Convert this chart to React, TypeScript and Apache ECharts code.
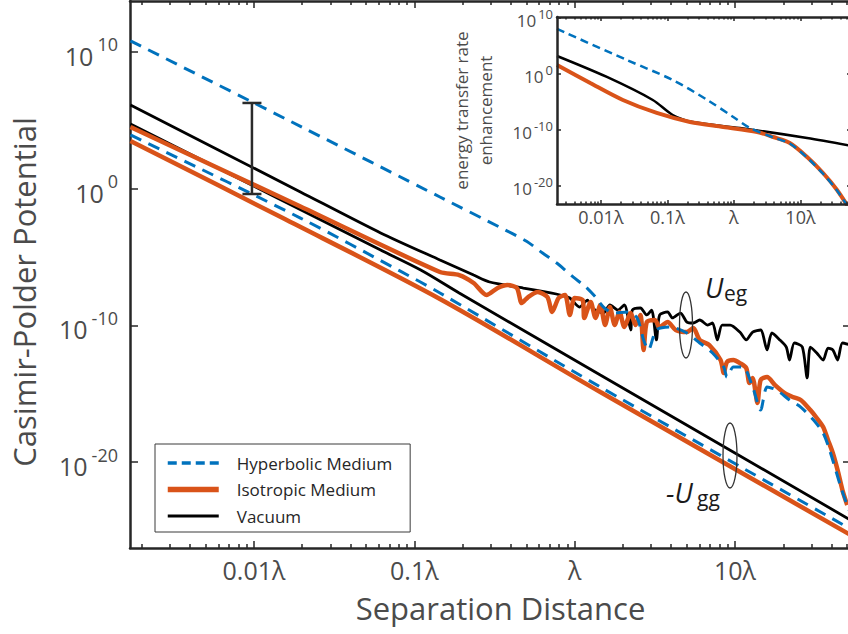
import React, { useEffect, useRef } from 'react';
import * as echarts from 'echarts';

const FONT = "'Open Sans', 'DejaVu Sans', sans-serif";
const TEXT = '#4b4b4b';
const AXIS = '#262626';
const BLUE = '#0072BD';
const ORANGE = '#D95319';
const BLACK = '#000000';

// axis ranges in log10 units (separation in units of λ, potential in arbitrary units)
const X_MIN = -2.773, X_MAX = 1.7235, Y_MIN = -26.29, Y_MAX = 13.73;
const XI_MIN = -2.66, XI_MAX = 1.76, YI_MIN = -23.2, YI_MAX = 10.2;

const xTickExps = [-2, -1, 0, 1];
const xTickLabels = ['0.01λ', '0.1λ', 'λ', '10λ'];
const yTickExps = [-20, -10, 0, 10];
const legendNames = ['Hyperbolic Medium', 'Isotropic Medium', 'Vacuum'];

// main panel, [log10(r/λ), log10(U)]
const hyperUeg = [[-2.77,10.81],[-1.71,4.56],[-0.84,-0.61],[-0.47,-2.80],[-0.30,-3.85],[-0.20,-4.71],[-0.10,-5.55],[-0.01,-6.46],[0.07,-7.20],[0.13,-7.93],[0.18,-8.66],[0.24,-9.10],[0.33,-9.02],[0.39,-9.46],[0.43,-11.07],[0.46,-11.80],[0.51,-10.34],[0.60,-10.12],[0.70,-10.56],[0.78,-11.29],[0.86,-12.02],[0.93,-13.05],[0.95,-13.78],[0.99,-13.05],[1.05,-13.05],[1.11,-14.51],[1.16,-16.20],[1.20,-14.51],[1.26,-14.73],[1.34,-15.46],[1.41,-15.98],[1.49,-16.93],[1.55,-17.88],[1.59,-19.12],[1.66,-21.83],[1.71,-23.51]];
const isoUeg = [[-2.77,4.51],[-1.71,-1.31],[-0.84,-6.10],[-0.72,-6.32],[-0.63,-6.90],[-0.55,-7.78],[-0.48,-7.27],[-0.42,-7.05],[-0.36,-7.27],[-0.33,-8.37],[-0.29,-7.93],[-0.23,-7.56],[-0.17,-7.93],[-0.14,-9.02],[-0.10,-8.00],[-0.06,-7.78],[-0.03,-9.24],[0.00,-8.00],[0.05,-8.15],[0.06,-9.46],[0.10,-8.29],[0.13,-9.46],[0.16,-8.51],[0.19,-9.98],[0.22,-8.66],[0.25,-9.98],[0.28,-9.02],[0.31,-10.12],[0.35,-9.10],[0.38,-9.98],[0.41,-9.24],[0.43,-11.80],[0.45,-9.76],[0.50,-9.61],[0.53,-10.12],[0.58,-9.76],[0.63,-10.34],[0.70,-10.49],[0.74,-10.20],[0.78,-11.07],[0.84,-11.44],[0.91,-12.54],[0.93,-13.49],[0.95,-12.68],[0.99,-12.54],[1.03,-12.76],[1.07,-13.12],[1.09,-14.22],[1.11,-13.85],[1.14,-15.68],[1.16,-14.00],[1.20,-13.78],[1.25,-14.37],[1.31,-14.95],[1.36,-15.24],[1.41,-15.46],[1.47,-16.20],[1.51,-16.78],[1.55,-17.44],[1.58,-18.39],[1.61,-19.34],[1.64,-20.59],[1.67,-22.05],[1.70,-23.15]];
const vacUeg = [[-2.77,6.12],[-1.71,-0.24],[-1.21,-3.24],[-0.84,-5.22],[-0.63,-6.32],[-0.53,-6.83],[-0.32,-7.27],[-0.15,-7.63],[-0.09,-7.78],[-0.03,-8.00],[0.03,-8.66],[0.08,-8.15],[0.11,-8.73],[0.18,-9.10],[0.22,-8.51],[0.27,-8.88],[0.31,-8.51],[0.35,-10.34],[0.36,-8.88],[0.41,-8.73],[0.45,-9.24],[0.48,-8.88],[0.51,-11.07],[0.53,-9.24],[0.58,-9.02],[0.61,-9.46],[0.66,-9.10],[0.70,-9.76],[0.74,-9.83],[0.78,-9.61],[0.83,-9.98],[0.86,-9.83],[0.89,-11.07],[0.92,-9.98],[0.97,-9.98],[1.03,-10.49],[1.07,-11.07],[1.11,-10.49],[1.16,-10.34],[1.20,-11.80],[1.23,-10.56],[1.28,-11.07],[1.32,-11.59],[1.34,-12.54],[1.37,-11.29],[1.42,-11.59],[1.45,-13.85],[1.47,-11.59],[1.51,-12.02],[1.55,-12.54],[1.58,-11.66],[1.61,-11.80],[1.64,-12.54],[1.67,-11.29],[1.72,-11.44]];
const vacUgg = [[-2.77,4.73],[-1.21,-4.49],[-0.96,-5.95],[-0.72,-7.63],[0.16,-13.63],[1.72,-24.24]];
const hyperUgg = [[-2.77,3.93],[-1.71,-2.15],[-1.09,-6.02],[-0.84,-7.63],[0.16,-14.51],[1.72,-24.89]];
const isoUgg = [[-2.77,3.49],[-1.82,-2.15],[-0.84,-8.07],[0.16,-14.88],[1.72,-25.33]];
// error bar at 0.01λ: [x, low, high]
const errorBar = [[-2.0125, -0.39, 6.27]];

// inset: energy transfer rate enhancement
const insetHyper = [[-2.66,8.06],[-1.61,2.52],[-0.92,-1.05],[-0.40,-4.62],[-0.01,-7.66],[0.24,-9.62],[0.59,-11.30],[0.84,-12.40],[1.10,-14.90],[1.34,-17.80],[1.55,-20.80],[1.76,-24.50]];
const insetVac = [[-2.66,3.24],[-1.91,-0.51],[-1.22,-4.62],[-0.92,-7.30],[-0.62,-8.55],[0.09,-9.62],[1.10,-11.41],[1.76,-12.80]];
const insetIso = [[-2.66,1.63],[-2.16,-1.59],[-1.67,-4.62],[-1.16,-6.94],[-0.66,-8.55],[-0.16,-9.44],[0.35,-10.34],[0.59,-11.23],[0.84,-12.30],[1.10,-14.80],[1.34,-17.66],[1.55,-20.69],[1.76,-24.50]];

function minorTicks(lo: number, hi: number) {
  const out: number[] = [];
  for (let d = -4; d <= 2; d++) {
    for (let k = 2; k <= 9; k++) {
      const v = d + Math.log10(k);
      if (v > lo && v < hi) out.push(v);
    }
  }
  return out;
}

const fmtX = (v: number) => {
  const i = xTickExps.indexOf(Math.round(v));
  return i >= 0 ? xTickLabels[i] : '';
};
const fmtY = (v: number) => `{b|10}{s|${Math.round(v)}}`;

function xAxes(grid: number, min: number, max: number, labelSize: number, majorLen: number, minorLen: number, lw: number, z: number, extra: any) {
  const base = { gridIndex: grid, type: 'value', min, max, splitLine: { show: false }, z };
  const tickStyle = { color: AXIS, width: 1.5 };
  return [
    {
      ...base, position: 'bottom',
      axisLine: { show: true, onZero: false, lineStyle: { color: AXIS, width: lw } },
      axisTick: { show: true, inside: true, length: majorLen, customValues: xTickExps, lineStyle: tickStyle },
      axisLabel: { show: true, customValues: xTickExps, formatter: fmtX, color: TEXT, fontSize: labelSize, fontFamily: FONT, margin: extra.labelMargin },
      ...extra.name,
    },
    {
      ...base, position: 'bottom',
      axisLine: { show: false, onZero: false },
      axisTick: { show: true, inside: true, length: minorLen, customValues: minorTicks(min, max), lineStyle: tickStyle },
      axisLabel: { show: false },
    },
    {
      ...base, position: 'top',
      axisLine: { show: true, onZero: false, lineStyle: { color: AXIS, width: lw } },
      axisTick: { show: true, inside: true, length: majorLen, customValues: xTickExps, lineStyle: tickStyle },
      axisLabel: { show: false },
    },
    {
      ...base, position: 'top',
      axisLine: { show: false, onZero: false },
      axisTick: { show: true, inside: true, length: minorLen, customValues: minorTicks(min, max), lineStyle: tickStyle },
      axisLabel: { show: false },
    },
  ];
}

function yAxes(grid: number, min: number, max: number, b: number, s: number, tickLen: number, lw: number, z: number, margin: number, name: any) {
  const base = { gridIndex: grid, type: 'value', min, max, splitLine: { show: false }, z };
  const tickStyle = { color: AXIS, width: 1.5 };
  return [
    {
      ...base, position: 'left',
      axisLine: { show: true, onZero: false, lineStyle: { color: AXIS, width: lw } },
      axisTick: { show: true, inside: true, length: tickLen, customValues: yTickExps, lineStyle: tickStyle },
      axisLabel: {
        show: true, customValues: yTickExps, formatter: fmtY, margin,
        rich: {
          b: { fontSize: b, fontFamily: FONT, color: TEXT, lineHeight: Math.round(b * 1.32), verticalAlign: 'bottom' },
          s: { fontSize: s, fontFamily: FONT, color: TEXT, verticalAlign: 'top', padding: [0, 0, 0, Math.round(b * 0.14)] },
        },
      },
      ...name,
    },
    {
      ...base, position: 'right',
      axisLine: { show: true, onZero: false, lineStyle: { color: AXIS, width: lw } },
      axisTick: { show: true, inside: true, length: tickLen, customValues: yTickExps, lineStyle: tickStyle },
      axisLabel: { show: false },
    },
  ];
}

function line(name: string, data: number[][], color: string, width: number, dashed: number[] | null, xi: number, yi: number, z: number, smooth: number) {
  return {
    type: 'line', name, data, xAxisIndex: xi, yAxisIndex: yi, z,
    symbol: 'none', showSymbol: false, silent: true, smooth,
    lineStyle: { color, width, type: dashed ? dashed : 'solid', cap: 'butt' },
    itemStyle: { color },
  };
}

export default function App() {
  const ref = useRef<HTMLDivElement>(null);
  useEffect(() => {
    if (!ref.current) return;
    const chart = echarts.init(ref.current, undefined, { renderer: 'svg' });
    const mainX = xAxes(0, X_MIN, X_MAX, 25, 7, 4, 2.5, 0, {
      labelMargin: 9,
      name: {
        name: 'Separation Distance', nameLocation: 'middle', nameGap: 44,
        nameTextStyle: { fontSize: 31, color: TEXT, fontFamily: FONT, padding: [0, 0, 0, 20] },
      },
    });
    const insetX = xAxes(1, XI_MIN, XI_MAX, 18, 4, 2.5, 2.5, 12, { labelMargin: 4, name: {} });
    const mainY = yAxes(0, Y_MIN, Y_MAX, 25, 18, 8, 2.5, 0, 12, {
      name: 'Casimir-Polder Potential', nameLocation: 'middle', nameGap: 91,
      nameTextStyle: { fontSize: 31, color: TEXT, fontFamily: FONT, padding: [0, 35, 0, 0] },
    });
    const insetY = yAxes(1, YI_MIN, YI_MAX, 17, 13, 4, 2.5, 12, 4, {
      name: 'energy transfer rate\nenhancement', nameLocation: 'middle', nameGap: 60,
      nameTextStyle: { fontSize: 17, color: TEXT, fontFamily: FONT, lineHeight: 24 },
    });
    const legendStyles = [
      { color: BLUE, width: 3.5, type: [9, 5] },
      { color: ORANGE, width: 5.5, type: 'solid' },
      { color: BLACK, width: 3, type: 'solid' },
    ];

    const option: any = {
      animation: false,
      backgroundColor: '#ffffff',
      grid: [
        { left: 130, top: 1, width: 721, height: 547, containLabel: false, outerBoundsMode: 'none', show: false },
        { left: 557, top: 17, width: 294, height: 187, containLabel: false, outerBoundsMode: 'none', show: false },
      ],
      xAxis: [...mainX, ...insetX],
      yAxis: [...mainY, ...insetY],
      legend: {
        data: legendNames.map((n, i) => ({ name: n, lineStyle: legendStyles[i] })),
        orient: 'vertical', left: 155, top: 444,
        backgroundColor: '#ffffff', borderColor: '#3a3a3a', borderWidth: 1,
        padding: [10, 18, 7, 10], itemWidth: 51, itemHeight: 14, itemGap: 8.5,
        selectedMode: false, z: 8,
        itemStyle: { opacity: 0 },
        textStyle: { fontSize: 17, color: AXIS, fontFamily: FONT, lineHeight: 18, padding: [0, 0, 0, 13] },
      },
      graphic: [
        { type: 'rect', shape: { x: 557, y: 17, width: 300, height: 187 }, style: { fill: '#ffffff' }, z: 10, silent: true },
        { type: 'ellipse', shape: { cx: 686, cy: 325, rx: 6.5, ry: 33 }, style: { fill: 'none', stroke: '#333333', lineWidth: 1.3 }, z: 20 },
        { type: 'ellipse', shape: { cx: 730, cy: 455.5, rx: 7, ry: 32.5 }, style: { fill: 'none', stroke: '#333333', lineWidth: 1.3 }, z: 20 },
        { type: 'text', x: 705, y: 287, style: { text: 'U', font: `italic 27px ${FONT}`, fill: '#1a1a1a', textAlign: 'left', verticalAlign: 'middle', textVerticalAlign: 'middle' }, z: 20 },
        { type: 'text', x: 724, y: 293, style: { text: 'eg', font: `21px ${FONT}`, fill: '#1a1a1a', textAlign: 'left', verticalAlign: 'middle', textVerticalAlign: 'middle' }, z: 20 },
        { type: 'text', x: 666, y: 492, style: { text: '-U', font: `italic 27px ${FONT}`, fill: '#1a1a1a', textAlign: 'left', verticalAlign: 'middle', textVerticalAlign: 'middle' }, z: 20 },
        { type: 'text', x: 697, y: 498, style: { text: 'gg', font: `21px ${FONT}`, fill: '#1a1a1a', textAlign: 'left', verticalAlign: 'middle', textVerticalAlign: 'middle' }, z: 20 },
      ],
      series: [
        line('Vacuum', vacUeg, BLACK, 2.8, null, 0, 0, 2, 0.25),
        line('Vacuum', vacUgg, BLACK, 2.8, null, 0, 0, 2, 0.3),
        line('Isotropic Medium', isoUeg, ORANGE, 4.5, null, 0, 0, 2, 0.25),
        line('Isotropic Medium', isoUgg, ORANGE, 4.5, null, 0, 0, 2, 0.3),
        line('Hyperbolic Medium', hyperUeg, BLUE, 3, [12, 8], 0, 0, 2, 0.25),
        line('Hyperbolic Medium', hyperUgg, BLUE, 3, [12, 8], 0, 0, 2, 0.3),
        {
          type: 'custom', xAxisIndex: 0, yAxisIndex: 0, z: 3, silent: true, data: errorBar,
          renderItem: (params: any, api: any) => {
            const x = api.value(0), lo = api.value(1), hi = api.value(2);
            const p1 = api.coord([x, hi]);
            const p2 = api.coord([x, lo]);
            const w = 9.5;
            const st = { stroke: '#2b2b2b', lineWidth: 2.5 };
            return {
              type: 'group',
              children: [
                { type: 'line', shape: { x1: p1[0], y1: p1[1], x2: p2[0], y2: p2[1] }, style: st },
                { type: 'line', shape: { x1: p1[0] - w, y1: p1[1], x2: p1[0] + w, y2: p1[1] }, style: st },
                { type: 'line', shape: { x1: p2[0] - w, y1: p2[1], x2: p2[0] + w, y2: p2[1] }, style: st },
              ],
            };
          },
        },
        line('Vacuum', insetVac, BLACK, 2.5, null, 4, 2, 11, 0.3),
        line('Isotropic Medium', insetIso, ORANGE, 4, null, 4, 2, 11, 0.3),
        line('Hyperbolic Medium', insetHyper, BLUE, 2.5, [8, 5], 4, 2, 11, 0.3),
      ],
    };
    chart.setOption(option);
    return () => chart.dispose();
  }, []);
  return <div ref={ref} style={{ position: 'fixed', left: 0, top: 0, width: 848, height: 634, background: '#fff' }} />;
}
